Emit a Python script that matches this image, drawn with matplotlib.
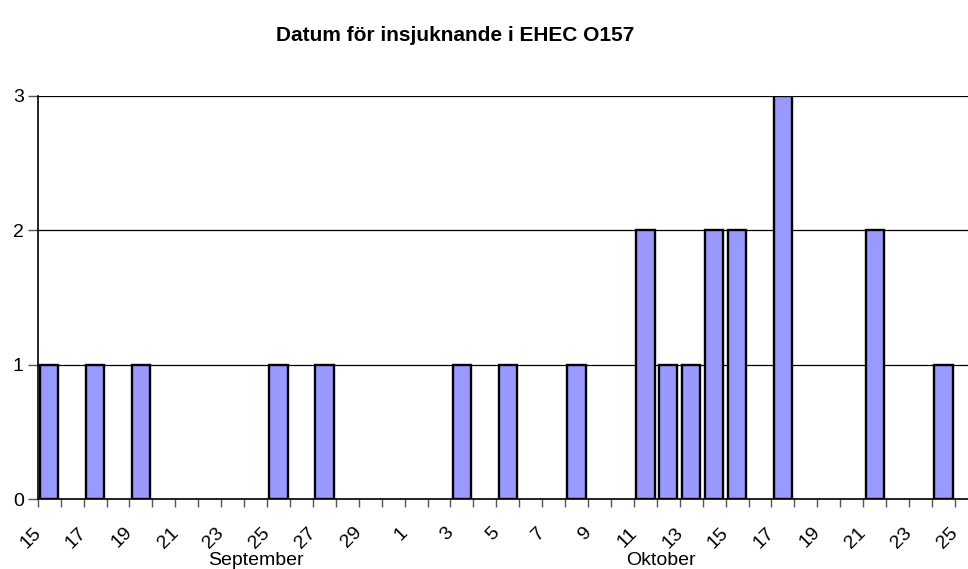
import matplotlib.pyplot as plt
import matplotlib.transforms as mtransforms
from datetime import date

plt.rcParams['font.family'] = ['Liberation Sans', 'DejaVu Sans']

# insjuknandedatum (månad, dag) och antal fall
onset_dates = [(9, 15), (9, 17), (9, 19), (9, 25), (9, 27),
               (10, 3), (10, 5), (10, 8), (10, 11), (10, 12), (10, 13),
               (10, 14), (10, 15), (10, 17), (10, 21), (10, 24)]
cases = [1, 1, 1, 1, 1, 1, 1, 1, 2, 1, 1, 2, 2, 3, 2, 1]

tick_labels = ['15', '17', '19', '21', '23', '25', '27', '29', '1', '3', '5',
               '7', '9', '11', '13', '15', '17', '19', '21', '23', '25']
months = ['September', 'Oktober']
month_centers = [(9, 24.5), (10, 12.2)]

start = date(2005, 9, 15)


def day_index(m, d):
    return (date(2005, m, int(d)) - start).days + (d - int(d))


xs = [day_index(m, d) for m, d in onset_dates]

fig = plt.figure(figsize=(9.68, 5.69), dpi=100)
ax = fig.add_axes([0.039, 0.123, 0.961, 0.709])

ax.bar(xs, cases, width=0.8, align='edge', color='#9999ff',
       edgecolor='black', linewidth=1.7, zorder=3)
# flytta staplarna in i dagens fack
for p in ax.patches:
    p.set_x(p.get_x() + 0.1)

ax.set_ylim(0, 3)
ax.set_xlim(0, 40.57)
ax.set_yticks([0, 1, 2, 3])
ax.yaxis.grid(True, color='black', linewidth=0.9)
ax.set_axisbelow(True)

ax.set_xticks(range(0, 41))
labels = [l for t in tick_labels for l in (t, '')][:41]
ax.set_xticklabels(labels)
ax.tick_params(axis='x', length=6, width=1, color='#555555', labelsize=14, pad=12)
ax.tick_params(axis='y', length=7, width=1, color='#555555', labelsize=14, pad=3)
shift = mtransforms.ScaledTranslation(-4 / 72, 0, fig.dpi_scale_trans)
for lab in ax.get_xticklabels():
    lab.set_rotation(45)
    lab.set_ha('right')
    lab.set_rotation_mode('anchor')
    lab.set_transform(lab.get_transform() + shift)

for s in ['top', 'right']:
    ax.spines[s].set_visible(False)
for s in ['left', 'bottom']:
    ax.spines[s].set_color('black')
    ax.spines[s].set_linewidth(1.2)

trans = mtransforms.blended_transform_factory(ax.transData, ax.transAxes)
for name, (m, d) in zip(months, month_centers):
    ax.text(day_index(m, d), -0.153, name,
            transform=trans, ha='center', va='center', fontsize=14)

fig.suptitle('Datum för insjuknande i EHEC O157', y=0.955,
             fontsize=15, fontweight='bold', x=0.47)

fig.savefig('out.png', dpi=100)
